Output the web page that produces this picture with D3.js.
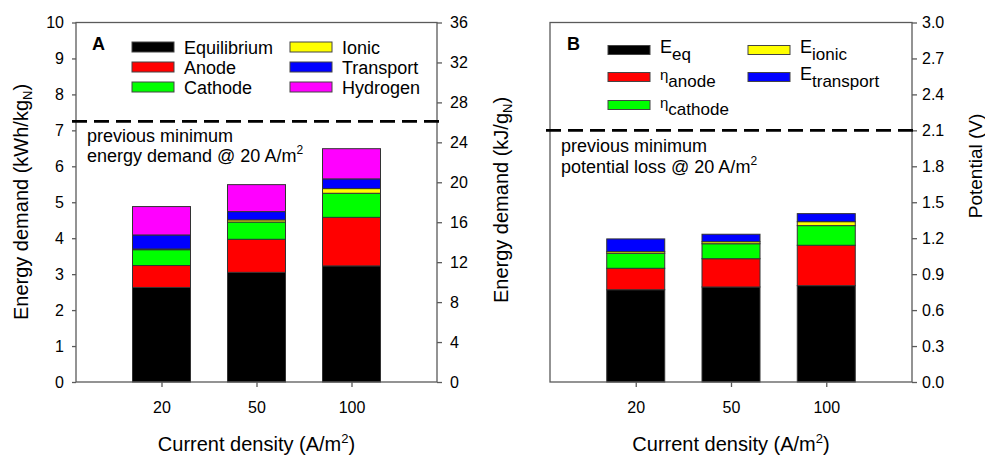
<!DOCTYPE html>
<html>
<head>
<meta charset="utf-8">
<script src="https://cdn.jsdelivr.net/npm/d3@7/dist/d3.min.js"></script>
<style>
  body { margin: 0; background: #fff; }
  svg text { font-family: "Liberation Sans", Arial, sans-serif; fill: #000; }
</style>
</head>
<body>
<div id="chart"></div>
<script>
// Data
const currentDensity = ['20', '50', '100'];

// Panel A: energy demand (kWh/kgN), bottom to top
const energySeries = ['Equilibrium', 'Anode', 'Cathode', 'Ionic', 'Transport', 'Hydrogen'];
const energyEquilibrium = [2.63, 3.05, 3.23];
const energyAnode       = [0.61, 0.92, 1.35];
const energyCathode     = [0.44, 0.48, 0.67];
const energyIonic       = [0.02, 0.06, 0.13];
const energyTransport   = [0.39, 0.23, 0.27];
const energyHydrogen    = [0.79, 0.75, 0.84];
const energyPrevMin = 7.25;
const energyTicks   = d3.range(0, 11, 1);
const energyKJTicks = d3.range(0, 37, 4);

// Panel B: potential (V), bottom to top
const potentialSeries = ['Eeq', 'anode', 'cathode', 'ionic', 'transport'];
const potentialEq        = [0.770, 0.793, 0.804];
const potentialAnode     = [0.179, 0.236, 0.337];
const potentialCathode   = [0.125, 0.125, 0.164];
const potentialIonic     = [0.014, 0.017, 0.033];
const potentialTransport = [0.106, 0.062, 0.067];
const potentialPrevMin = 2.1;
const potentialTicks = d3.range(0, 3.01, 0.3);

const colors = ['#000000', '#ff0000', '#00ff00', '#ffff00', '#0000ff', '#ff00ff'];

const width = 985, height = 455;
const frameColor = '#5a5a5a';

const svg = d3.select('#chart').append('svg')
    .attr('width', width)
    .attr('height', height);
svg.append('rect').attr('width', width).attr('height', height).attr('fill', '#fff');

function toRows(series, arrays) {
  return currentDensity.map((c, i) => {
    const row = { cd: c };
    series.forEach((s, j) => { row[s] = arrays[j][i]; });
    return row;
  });
}

function drawPanel({ x0, x1, yMax, series, arrays }) {
  const top = 22.5, bottom = 382;
  const x = d3.scalePoint().domain(currentDensity).range([x0, x1]).padding(0.9);
  const y = d3.scaleLinear().domain([0, yMax]).range([bottom, top]);
  const barW = 58;

  const stacked = d3.stack().keys(series)(toRows(series, arrays));

  const g = svg.append('g');
  g.selectAll('g.layer')
    .data(stacked)
    .join('g')
      .attr('class', 'layer')
      .attr('fill', (d, i) => colors[i])
    .selectAll('rect')
    .data(d => d)
    .join('rect')
      .attr('x', d => x(d.data.cd) - barW / 2)
      .attr('y', d => y(d[1]))
      .attr('width', barW)
      .attr('height', d => y(d[0]) - y(d[1]))
      .attr('stroke', '#333')
      .attr('stroke-width', 1);

  // frame
  g.append('rect')
    .attr('x', x0).attr('y', top)
    .attr('width', x1 - x0).attr('height', bottom - top)
    .attr('fill', 'none')
    .attr('stroke', frameColor)
    .attr('stroke-width', 1.3);

  // bottom axis
  const xAxis = g.append('g')
    .attr('transform', `translate(0,${bottom})`)
    .call(d3.axisBottom(x).tickSize(5).tickPadding(15));
  xAxis.select('.domain').remove();
  xAxis.selectAll('line').attr('stroke', frameColor).attr('stroke-width', 1.3);
  xAxis.selectAll('text').attr('font-size', 16).attr('font-family', '"Liberation Sans", Arial, sans-serif');

  // x title
  const xt = g.append('text')
    .attr('x', (x0 + x1) / 2).attr('y', 451)
    .attr('text-anchor', 'middle')
    .attr('font-size', 20);
  xt.append('tspan').text('Current density (A/m');
  xt.append('tspan').attr('font-size', 13).attr('dy', -8).text('2');
  xt.append('tspan').attr('dy', 8).text(')');

  return { g, x, y, top, bottom };
}

function styleAxis(sel) {
  sel.select('.domain').remove();
  sel.selectAll('line').attr('stroke', frameColor).attr('stroke-width', 1.3);
  sel.selectAll('text').attr('font-size', 16).attr('font-family', '"Liberation Sans", Arial, sans-serif');
}

function dashed(g, x0, x1, yv) {
  g.append('line')
    .attr('x1', x0 - 4).attr('x2', x1 + 3)
    .attr('y1', yv).attr('y2', yv)
    .attr('stroke', '#000')
    .attr('stroke-width', 2.6)
    .attr('stroke-dasharray', '15,7');
}

// ---------- Panel A ----------
const A = drawPanel({
  x0: 76, x1: 437, yMax: 10,
  series: energySeries,
  arrays: [energyEquilibrium, energyAnode, energyCathode, energyIonic, energyTransport, energyHydrogen]
});

A.g.append('g')
  .attr('transform', 'translate(76,0)')
  .call(d3.axisLeft(A.y).tickValues(energyTicks).tickSize(4).tickPadding(8).tickFormat(d3.format('d')))
  .call(styleAxis);

const yKJ = d3.scaleLinear().domain([0, 36]).range([A.bottom, A.top]);
A.g.append('g')
  .attr('transform', 'translate(437,0)')
  .call(d3.axisRight(yKJ).tickValues(energyKJTicks).tickSize(5).tickPadding(8).tickFormat(d3.format('d')))
  .call(styleAxis);

dashed(A.g, 76, 437, A.y(energyPrevMin));

// y titles
const ltA = A.g.append('text')
  .attr('transform', 'translate(28,202) rotate(-90)')
  .attr('text-anchor', 'middle')
  .attr('font-size', 20);
ltA.append('tspan').text('Energy demand (kWh/kg');
ltA.append('tspan').attr('font-size', 13).attr('dy', 4).text('N');
ltA.append('tspan').attr('dy', -4).text(')');

const rtA = A.g.append('text')
  .attr('transform', 'translate(508,200) rotate(-90)')
  .attr('text-anchor', 'middle')
  .attr('font-size', 20);
rtA.append('tspan').text('Energy demand (kJ/g');
rtA.append('tspan').attr('font-size', 13).attr('dy', 4).text('N');
rtA.append('tspan').attr('dy', -4).text(')');

A.g.append('text').attr('x', 92).attr('y', 50)
  .attr('font-size', 18).attr('font-weight', 'bold').text('A');

// legend A
const legendA = [
  { name: 'Equilibrium', c: 0, x: 132, y: 47 },
  { name: 'Anode',       c: 1, x: 132, y: 67 },
  { name: 'Cathode',     c: 2, x: 132, y: 87 },
  { name: 'Ionic',       c: 3, x: 290, y: 47 },
  { name: 'Transport',   c: 4, x: 290, y: 67 },
  { name: 'Hydrogen',    c: 5, x: 290, y: 87 }
];
const la = A.g.selectAll('g.legA').data(legendA).join('g').attr('class', 'legA');
la.append('rect')
  .attr('x', d => d.x).attr('y', d => d.y - 5)
  .attr('width', 42).attr('height', 10)
  .attr('fill', d => colors[d.c])
  .attr('stroke', '#444').attr('stroke-width', 1);
la.append('text')
  .attr('x', d => d.x + 52).attr('y', d => d.y + 6.5)
  .attr('font-size', 18)
  .text(d => d.name);

const noteA = A.g.append('text').attr('font-size', 18);
noteA.append('tspan').attr('x', 87).attr('y', 142).text('previous minimum');
noteA.append('tspan').attr('x', 87).attr('y', 162).text('energy demand @ 20 A/m');
noteA.append('tspan').attr('font-size', 12).attr('dy', -8).text('2');

// ---------- Panel B ----------
const B = drawPanel({
  x0: 550, x1: 912, yMax: 3,
  series: potentialSeries,
  arrays: [potentialEq, potentialAnode, potentialCathode, potentialIonic, potentialTransport]
});

B.g.append('g')
  .attr('transform', 'translate(912,0)')
  .call(d3.axisRight(B.y).tickValues(potentialTicks).tickSize(5).tickPadding(5).tickFormat(d3.format('.1f')))
  .call(styleAxis);

dashed(B.g, 550, 912, B.y(potentialPrevMin));

B.g.append('text')
  .attr('transform', 'translate(982,166) rotate(-90)')
  .attr('text-anchor', 'middle')
  .attr('font-size', 19)
  .text('Potential (V)');

B.g.append('text').attr('x', 567).attr('y', 50)
  .attr('font-size', 18).attr('font-weight', 'bold').text('B');

// legend B
const legendB = [
  { main: 'E', sub: 'eq',        c: 0, x: 608, y: 50 },
  { main: 'η', sub: 'anode',     c: 1, x: 608, y: 77 },
  { main: 'η', sub: 'cathode',   c: 2, x: 608, y: 105 },
  { main: 'E', sub: 'ionic',     c: 3, x: 748, y: 50 },
  { main: 'E', sub: 'transport', c: 4, x: 748, y: 77 }
];
const lb = B.g.selectAll('g.legB').data(legendB).join('g').attr('class', 'legB');
lb.append('rect')
  .attr('x', d => d.x).attr('y', d => d.y - 4.5)
  .attr('width', 42).attr('height', 9)
  .attr('fill', d => colors[d.c])
  .attr('stroke', '#444').attr('stroke-width', 1);
const lbt = lb.append('text')
  .attr('x', d => d.x + 52).attr('y', d => d.y + 3)
  .attr('font-size', 18);
lbt.append('tspan')
  .attr('font-size', d => d.main === 'η' ? 15 : 18)
  .text(d => d.main);
lbt.append('tspan')
  .attr('dy', 7)
  .attr('font-size', 17)
  .text(d => d.sub);

const noteB = B.g.append('text').attr('font-size', 18);
noteB.append('tspan').attr('x', 561).attr('y', 152).text('previous minimum');
noteB.append('tspan').attr('x', 561).attr('y', 173).text('potential loss @ 20 A/m');
noteB.append('tspan').attr('font-size', 12).attr('dy', -8).text('2');
</script>
</body>
</html>
